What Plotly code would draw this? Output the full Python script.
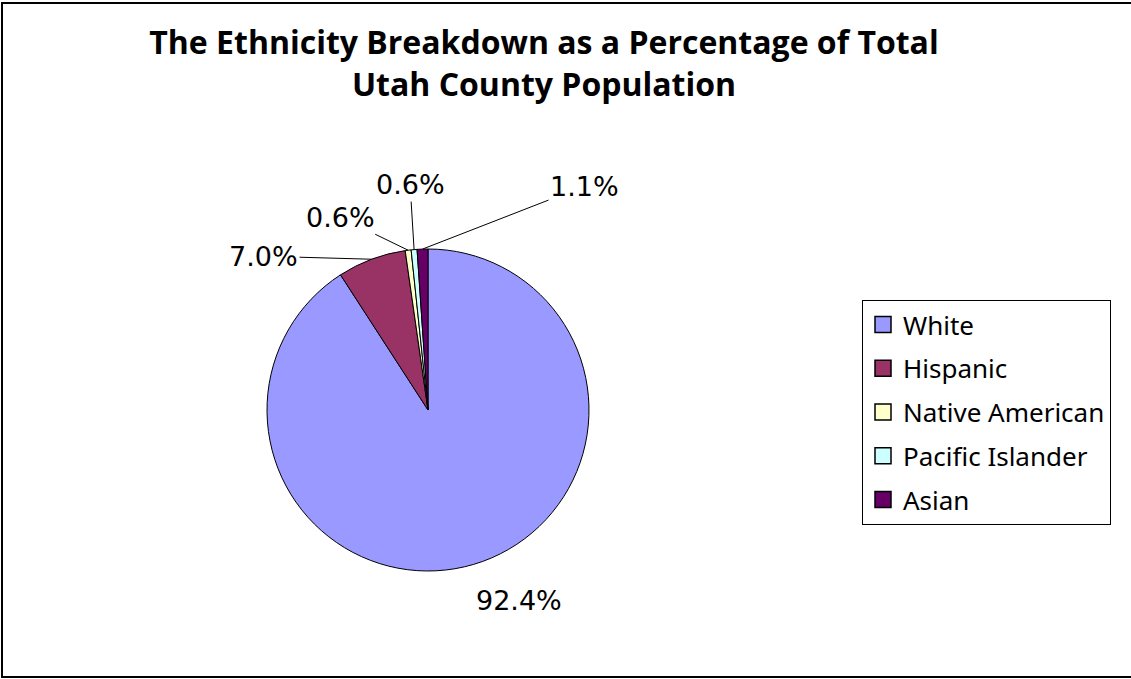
import math
import plotly.graph_objects as go

# ---- data ----
categories = ["White", "Hispanic", "Native American", "Pacific Islander", "Asian"]
percent_values = [92.4, 7.0, 0.6, 0.6, 1.1]
colors = ["#9999FF", "#993366", "#FFFFCC", "#CCFFFF", "#660066"]
title_text = "The Ethnicity Breakdown as a Percentage of Total<br>Utah County Population"

# ---- layout constants (pixels) ----
W, H = 1131, 679
CX, CY, R = 428, 410, 161
# label offsets (text centre relative to slice edge point), style only
label_offsets = [(45, 54, False), (-108, -3, True), (-68, -33, True), (-4, -65, True), (162, -63, True)]

dom_x = [(CX - R) / W, (CX + R) / W]
dom_y = [1 - (CY + R) / H, 1 - (CY - R) / H]

fig = go.Figure()
fig.add_trace(go.Pie(
    labels=categories, values=percent_values, sort=False, direction="clockwise",
    rotation=0, marker=dict(colors=colors, line=dict(color="black", width=1)),
    textinfo="none", showlegend=False, domain=dict(x=dom_x, y=dom_y),
    hovertemplate="%{label}: %{value:.1f}%<extra></extra>",
))

# legend entries (square markers) so vertical spacing can match
for name, col in zip(categories, colors):
    fig.add_trace(go.Scatter(
        x=[None], y=[None], mode="markers", name=name, legendgroup=name,
        marker=dict(symbol="square", size=16, color=col, line=dict(color="black", width=1.5)),
    ))

# data labels computed from slice angles
total = sum(percent_values)
cum = 0.0
annotations = []
for v, (dx, dy, arrow) in zip(percent_values, label_offsets):
    mid = (cum + v / 2) / total * 2 * math.pi
    cum += v
    px = CX + R * math.sin(mid)
    py = CY - R * math.cos(mid)
    a = dict(x=px / W, y=1 - py / H, xref="paper", yref="paper", text=f"{v:.1f}%",
             font=dict(family="DejaVu Sans, Verdana, sans-serif", size=27, color="black"))
    if arrow:
        a.update(showarrow=True, ax=dx, ay=dy, arrowhead=0, arrowwidth=1,
                 arrowcolor="black", standoff=0, startstandoff=0)
    else:
        a.update(showarrow=False, xshift=dx, yshift=-dy)
    annotations.append(a)

fig.update_layout(
    width=W, height=H,
    margin=dict(l=0, r=0, t=0, b=0),
    paper_bgcolor="white", plot_bgcolor="white",
    title=dict(text=title_text, x=544 / W, xanchor="center", y=1 - 54 / H, yanchor="middle",
               xref="paper", yref="container",
               font=dict(family="Open Sans, sans-serif", size=32,
                         color="black", weight="bold")),
    xaxis=dict(visible=False), yaxis=dict(visible=False),
    legend=dict(x=862 / W, y=1 - 300 / H, xanchor="left", yanchor="top",
                bordercolor="black", borderwidth=1, bgcolor="white",
                tracegroupgap=7, itemsizing="trace",
                font=dict(family="Noto Sans, sans-serif", size=26, color="black")),
    annotations=annotations,
    shapes=[dict(type="rect", xref="paper", yref="paper", x0=2 / W, x1=1.01,
                 y0=2 / H, y1=1 - 3 / H, line=dict(color="black", width=2))],
)

fig.write_html("out.html", post_script="document.body.style.margin='0';",
               config={"displayModeBar": False})
